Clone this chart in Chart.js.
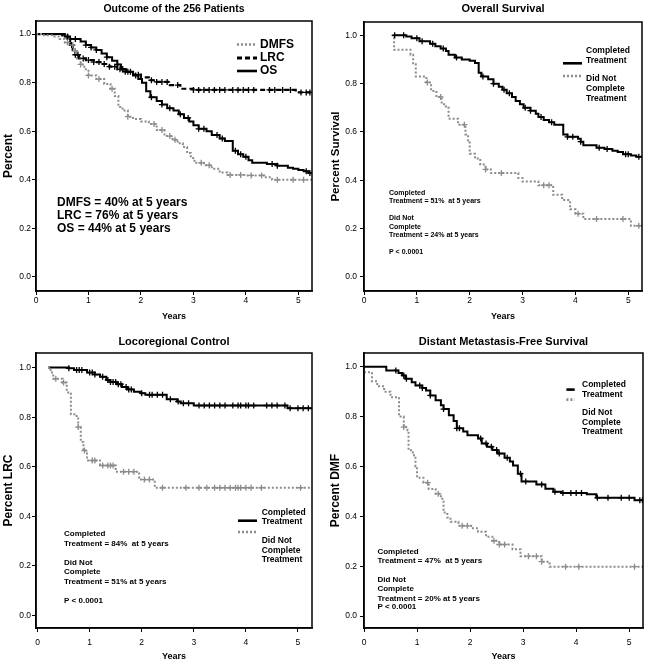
<!DOCTYPE html>
<html><head><meta charset="utf-8">
<script src="https://cdn.jsdelivr.net/npm/chart.js@4.4.1/dist/chart.umd.min.js"></script>
<style>
html,body{margin:0;padding:0;background:#fff;}
#wrap{position:relative;width:651px;height:665px;background:#fff;}
canvas{position:absolute;}
</style></head><body>
<div id="wrap">
<canvas id="c1" width="325" height="330" style="left:0;top:0"></canvas>
<canvas id="c2" width="326" height="330" style="left:325px;top:0"></canvas>
<canvas id="c3" width="325" height="335" style="left:0;top:330px"></canvas>
<canvas id="c4" width="326" height="335" style="left:325px;top:330px"></canvas>
</div>
<script>
// ---------- tick labels ----------
const yearTicks = [0, 1, 2, 3, 4, 5];
const pctTicks = [0, 0.2, 0.4, 0.6, 0.8, 1.0];

// ---------- Panel 1: Outcome of the 256 Patients ----------
const p1OsTimes = [0,0.55,0.65,0.85,0.95,1.05,1.15,1.25,1.35,1.45,1.55,1.62,1.72,1.85,1.95,2.02,2.1,2.18,2.3,2.4,2.5,2.62,2.72,2.82,2.92,3.0,3.1,3.25,3.35,3.5,3.6,3.75,3.85,3.95,4.05,4.12,4.4,4.6,4.8,4.9,5.0,5.1,5.2,5.26];
const p1OsSurv  = [1,0.99,0.98,0.97,0.955,0.945,0.935,0.92,0.905,0.89,0.875,0.855,0.845,0.83,0.815,0.8,0.765,0.74,0.725,0.71,0.695,0.685,0.67,0.655,0.64,0.625,0.61,0.6,0.585,0.57,0.56,0.52,0.505,0.495,0.48,0.47,0.465,0.458,0.45,0.445,0.44,0.435,0.428,0.425];
const p1OsCens  = [0.6,0.75,0.95,1.05,1.15,1.35,1.55,1.65,1.75,1.9,2.2,2.4,2.55,2.75,2.9,3.1,3.2,3.45,3.55,3.8,3.9,4.0,4.5,4.6,5.15,5.22];
const p1LrcTimes = [0,0.5,0.6,0.65,0.7,0.75,0.82,0.95,1.1,1.25,1.4,1.55,1.7,1.85,2.0,2.15,2.3,2.55,2.75,3.0,4.95,5.26];
const p1LrcSurv  = [1,0.995,0.975,0.955,0.935,0.915,0.9,0.893,0.885,0.877,0.866,0.855,0.845,0.833,0.822,0.81,0.803,0.79,0.775,0.77,0.76,0.76];
const p1LrcCens  = [0.68,0.75,0.8,0.9,1.0,1.1,1.2,1.3,1.4,1.5,1.6,1.65,1.7,1.8,1.95,2.2,2.3,2.4,2.5,2.7,3.0,3.1,3.2,3.3,3.4,3.5,3.6,3.75,3.85,3.95,4.05,4.15,4.45,4.55,4.7,4.85,5.05,5.15,5.22];
const p1DmfsTimes = [0,0.15,0.3,0.45,0.55,0.65,0.72,0.78,0.85,0.92,1.0,1.15,1.3,1.42,1.5,1.57,1.65,1.75,1.85,2.0,2.15,2.3,2.45,2.6,2.7,2.8,2.88,2.95,3.02,3.2,3.35,3.5,3.65,4.0,4.35,4.5,5.0,5.26];
const p1DmfsSurv  = [1,0.995,0.99,0.98,0.965,0.955,0.93,0.9,0.875,0.855,0.83,0.815,0.795,0.775,0.745,0.7,0.685,0.66,0.65,0.64,0.63,0.605,0.58,0.565,0.55,0.535,0.51,0.49,0.47,0.46,0.445,0.43,0.42,0.418,0.41,0.4,0.4,0.397];
const p1DmfsCens  = [0.6,0.7,0.75,0.85,1.0,1.2,1.45,1.75,2.25,2.4,2.55,2.65,3.15,3.3,3.7,3.9,4.1,4.3,4.6,4.9,5.1];

// ---------- Panel 2: Overall Survival ----------
const p2CompTimes = [0.55,0.8,0.9,1.05,1.25,1.35,1.45,1.55,1.6,1.72,1.85,2.0,2.1,2.17,2.22,2.35,2.45,2.55,2.62,2.7,2.8,2.87,2.95,3.02,3.15,3.25,3.3,3.4,3.5,3.6,3.77,3.85,4.05,4.1,4.15,4.4,4.55,4.7,4.8,4.9,5.05,5.15,5.26];
const p2CompSurv  = [1,0.995,0.988,0.975,0.965,0.955,0.945,0.935,0.92,0.908,0.9,0.895,0.885,0.845,0.83,0.818,0.8,0.787,0.775,0.76,0.745,0.728,0.715,0.7,0.688,0.675,0.662,0.65,0.64,0.63,0.59,0.58,0.572,0.56,0.545,0.535,0.53,0.522,0.517,0.508,0.503,0.497,0.495];
const p2CompCens  = [0.58,0.75,1.0,1.1,1.3,1.5,1.75,2.25,2.45,2.65,2.75,3.05,3.15,3.35,3.55,3.85,3.95,4.1,4.45,4.6,4.95,5.0,5.2];
const p2NotTimes = [0.53,0.57,0.88,0.93,0.98,1.18,1.27,1.37,1.47,1.55,1.6,1.78,1.92,1.97,2.0,2.1,2.2,2.3,2.4,2.92,3.0,3.3,3.58,3.75,3.9,4.0,4.15,5.05,5.26];
const p2NotSurv  = [1,0.94,0.92,0.88,0.83,0.805,0.77,0.745,0.715,0.7,0.655,0.63,0.59,0.565,0.51,0.49,0.465,0.445,0.43,0.41,0.395,0.38,0.34,0.318,0.28,0.262,0.24,0.212,0.212];
const p2NotCens  = [1.2,1.45,1.9,2.3,2.6,3.4,3.5,4.05,4.4,4.9,5.2];

// ---------- Panel 3: Locoregional Control ----------
const p3CompTimes = [0.2,0.6,0.7,0.95,1.1,1.2,1.32,1.4,1.52,1.62,1.72,1.85,1.98,2.07,2.48,2.68,2.75,3.0,4.8,5.27];
const p3CompSurv  = [1,0.997,0.99,0.98,0.972,0.963,0.95,0.942,0.933,0.922,0.912,0.903,0.897,0.89,0.872,0.863,0.856,0.847,0.836,0.836];
const p3CompCens  = [0.6,0.75,0.8,0.85,1.0,1.05,1.1,1.25,1.35,1.4,1.45,1.5,1.55,1.6,1.7,1.75,1.8,2.0,2.15,2.2,2.3,2.4,2.55,2.7,2.8,2.9,3.1,3.2,3.3,3.4,3.5,3.6,3.75,3.85,3.9,4.0,4.05,4.15,4.4,4.5,4.6,4.75,4.85,5.0,5.1,5.2];
const p3NotTimes = [0.2,0.25,0.3,0.48,0.56,0.64,0.75,0.78,0.83,0.88,0.95,1.2,1.5,1.95,2.25,5.27];
const p3NotSurv  = [1,0.98,0.955,0.94,0.9,0.812,0.795,0.76,0.7,0.665,0.625,0.605,0.58,0.548,0.515,0.515];
const p3NotCens  = [0.35,0.5,0.78,0.9,1.05,1.1,1.25,1.35,1.4,1.45,1.65,1.75,1.85,2.05,2.15,2.4,2.85,3.1,3.25,3.4,3.5,3.6,3.7,3.8,3.85,3.9,4.0,4.1,4.3,5.05];

// ---------- Panel 4: Distant Metastasis-Free Survival ----------
const p4CompTimes = [0,0.42,0.65,0.72,0.78,0.9,0.97,1.1,1.17,1.25,1.35,1.45,1.5,1.6,1.69,1.75,1.87,1.95,2.15,2.22,2.32,2.42,2.52,2.65,2.75,2.81,2.9,2.97,3.25,3.42,3.57,3.72,4.2,4.38,5.1,5.26];
const p4CompSurv  = [1,0.985,0.975,0.965,0.952,0.938,0.925,0.915,0.905,0.885,0.865,0.845,0.83,0.805,0.782,0.753,0.74,0.725,0.712,0.692,0.679,0.666,0.652,0.635,0.62,0.604,0.571,0.54,0.528,0.511,0.498,0.493,0.488,0.474,0.464,0.464];
const p4CompCens  = [0.6,0.75,0.8,1.05,1.1,1.25,1.5,1.75,1.8,2.2,2.3,2.4,2.5,2.55,2.7,2.95,3.05,3.35,3.6,3.75,3.9,4.0,4.1,4.4,4.6,4.85,5.0,5.2,5.25];
const p4NotTimes = [0,0.15,0.25,0.38,0.5,0.66,0.75,0.82,0.84,0.92,0.97,1.0,1.12,1.22,1.35,1.45,1.5,1.57,1.63,1.78,2.02,2.15,2.3,2.42,2.55,2.8,2.95,3.35,3.5,5.26];
const p4NotSurv  = [0.978,0.942,0.922,0.9,0.878,0.8,0.758,0.745,0.665,0.645,0.6,0.555,0.535,0.51,0.49,0.47,0.415,0.395,0.378,0.362,0.352,0.338,0.318,0.302,0.287,0.268,0.24,0.218,0.198,0.198];
const p4NotCens  = [0.75,1.2,1.4,1.85,1.95,2.45,2.55,2.65,3.1,3.25,3.35,3.8,4.05,5.1];

// ---------- rendering ----------
const FF = '"Liberation Sans", Arial, Helvetica, sans-serif';
const STY = {
  solid:  {color:'#000000', width:2,   dash:[]},
  dashed: {color:'#000000', width:2.2, dash:[5,3]},
  dotted: {color:'#8c8c8c', width:2,   dash:[2,2]}
};
function stepAt(ts, vs, t){ let v = vs[0]; for (let i=0;i<ts.length;i++){ if (ts[i] <= t) v = vs[i]; else break; } return v; }

function decor(p){
  return { id:'decor_'+p.id, afterDraw(chart){
    const ctx = chart.ctx, a = chart.chartArea;
    ctx.save();
    ctx.strokeStyle = '#000'; ctx.lineWidth = 1.5; ctx.setLineDash([]);
    ctx.strokeRect(a.left, a.top, a.right-a.left, a.bottom-a.top);
    ctx.fillStyle = '#000'; ctx.textBaseline = 'middle';
    ctx.font = 'bold ' + p.titleSize + 'px ' + FF; ctx.textAlign = 'center';
    ctx.fillText(p.title, (a.left+a.right)/2, p.titleY);
    ctx.textAlign = 'left';
    p.legend.forEach(it => {
      if (it.line){
        const st = STY[it.line];
        ctx.strokeStyle = st.color; ctx.lineWidth = st.width + 0.6; ctx.setLineDash(st.dash);
        ctx.beginPath(); ctx.moveTo(a.left+it.x0, a.top+it.y); ctx.lineTo(a.left+it.x1, a.top+it.y); ctx.stroke();
        ctx.setLineDash([]);
      } else {
        ctx.fillStyle = '#000'; ctx.font = 'bold ' + p.legendSize + 'px ' + FF;
        ctx.fillText(it.text, a.left+it.x, a.top+it.y);
      }
    });
    ctx.font = 'bold ' + p.noteSize + 'px ' + FF;
    p.notes.forEach(n => ctx.fillText(n.text, a.left+p.noteX, a.top+n.y));
    ctx.restore();
  }};
}

function panel(id, p){
  const ds = [];
  p.series.forEach(s => {
    const st = STY[s.style];
    ds.push({type:'line', data:s.t.map((x,i)=>({x:x, y:s.v[i]})), stepped:'before',
      borderColor:st.color, borderWidth:st.width, borderDash:st.dash, pointRadius:0, fill:false, order:2});
    ds.push({type:'scatter', data:s.c.map(x=>({x:x, y:stepAt(s.t, s.v, x)})), pointStyle:'cross',
      pointRadius:3, borderColor:st.color, backgroundColor:st.color, borderWidth:1.3, showLine:false, order:1});
  });
  new Chart(document.getElementById(id), {
    type:'line',
    data:{datasets:ds},
    options:{
      responsive:false, animation:false, events:[],
      layout:{padding:{top:p.padTop, right:p.padRight, left:0, bottom:0}},
      plugins:{legend:{display:false}, tooltip:{enabled:false}, title:{display:false}},
      scales:{
        x:{type:'linear', min:p.xMin, max:p.xMax,
          afterBuildTicks:sc=>{ sc.ticks = yearTicks.map(v=>({value:v})); },
          afterFit:sc=>{ sc.height = p.xH; },
          ticks:{color:'#000', font:{family:FF, size:8.5}, padding:p.xTickPad, maxRotation:0, callback:v=>String(v)},
          grid:{drawOnChartArea:false, color:'#000', tickColor:'#000', tickLength:4, tickWidth:1},
          border:{color:'#000', width:1.5},
          title:{display:true, text:'Years', color:'#000', font:{family:FF, size:9, weight:'bold'}, padding:{top:0, bottom:p.xTitlePad}}
        },
        y:{type:'linear', min:p.yMin, max:p.yMax,
          afterBuildTicks:sc=>{ sc.ticks = pctTicks.map(v=>({value:v})); },
          afterFit:sc=>{ sc.width = p.yW; },
          ticks:{color:'#000', font:{family:FF, size:8.5}, padding:p.yTickPad, callback:v=>Number(v).toFixed(1)},
          grid:{drawOnChartArea:false, color:'#000', tickColor:'#000', tickLength:4, tickWidth:1},
          border:{color:'#000', width:1.5},
          title:{display:true, text:p.yTitle, color:'#000', font:{family:FF, size:p.yTitleSize, weight:'bold'}, padding:{top:p.yTitlePad, bottom:0}}
        }
      }
    },
    plugins:[decor(p)]
  });
}

const compLegend = (x0, x1, tx, ySolid, yDot, rows) => [
  {line:'solid', x0:x0, x1:x1, y:ySolid},
  {line:'dotted', x0:x0, x1:x1, y:yDot},
  {text:'Completed', x:tx, y:rows[0]}, {text:'Treatment', x:tx, y:rows[1]},
  {text:'Did Not', x:tx, y:rows[2]}, {text:'Complete', x:tx, y:rows[3]}, {text:'Treatment', x:tx, y:rows[4]}
];

panel('c1', {id:1, title:'Outcome of the 256 Patients', titleY:9, titleSize:10.5,
  padTop:21, padRight:13, yW:36, xH:39, xMin:0, xMax:5.26, yMin:-0.058, yMax:1.054,
  xTickPad:1, yTickPad:1, xTitlePad:8.5, yTitle:'Percent', yTitleSize:12, yTitlePad:1.5,
  series:[
    {t:p1DmfsTimes, v:p1DmfsSurv, c:p1DmfsCens, style:'dotted'},
    {t:p1LrcTimes, v:p1LrcSurv, c:p1LrcCens, style:'dashed'},
    {t:p1OsTimes, v:p1OsSurv, c:p1OsCens, style:'solid'}
  ],
  legendSize:12,
  legend:[
    {line:'dotted', x0:201, x1:221, y:23.5}, {text:'DMFS', x:224, y:23.5},
    {line:'dashed', x0:201, x1:221, y:37}, {text:'LRC', x:224, y:37},
    {line:'solid', x0:201, x1:221, y:50}, {text:'OS', x:224, y:50}
  ],
  noteSize:12, noteX:21,
  notes:[{text:'DMFS = 40% at 5 years', y:182}, {text:'LRC = 76% at 5 years', y:194.5}, {text:'OS = 44% at 5 years', y:207.5}]
});

panel('c2', {id:2, title:'Overall Survival', titleY:9, titleSize:11,
  padTop:22, padRight:9, yW:39, xH:39, xMin:0, xMax:5.26, yMin:-0.058, yMax:1.055,
  xTickPad:1, yTickPad:3, xTitlePad:8.5, yTitle:'Percent Survival', yTitleSize:11.5, yTitlePad:4,
  series:[
    {t:p2NotTimes, v:p2NotSurv, c:p2NotCens, style:'dotted'},
    {t:p2CompTimes, v:p2CompSurv, c:p2CompCens, style:'solid'}
  ],
  legendSize:8.5,
  legend:compLegend(199, 218, 222, 41.3, 54, [28.7, 38.3, 57, 66.7, 76.3]),
  noteSize:7, noteX:25,
  notes:[{text:'Completed', y:170.7}, {text:'Treatment = 51%  at 5 years', y:179},
    {text:'Did Not', y:196.3}, {text:'Complete', y:204.7}, {text:'Treatment = 24% at 5 years', y:213},
    {text:'P < 0.0001', y:229.7}]
});

panel('c3', {id:3, title:'Locoregional Control', titleY:11.7, titleSize:11,
  padTop:23, padRight:13, yW:36, xH:37, xMin:-0.03, xMax:5.27, yMin:-0.051, yMax:1.059,
  xTickPad:6, yTickPad:1, xTitlePad:3.5, yTitle:'Percent LRC', yTitleSize:12, yTitlePad:1.5,
  series:[
    {t:p3NotTimes, v:p3NotSurv, c:p3NotCens, style:'dotted'},
    {t:p3CompTimes, v:p3CompSurv, c:p3CompCens, style:'solid'}
  ],
  legendSize:8.5,
  legend:compLegend(202, 221, 225.7, 167.7, 179, [159.7, 169, 188, 197.7, 207]),
  noteSize:8, noteX:28,
  notes:[{text:'Completed', y:180.7}, {text:'Treatment = 84%  at 5 years', y:190.3},
    {text:'Did Not', y:209.3}, {text:'Complete', y:218.7}, {text:'Treatment = 51% at 5 years', y:228.7},
    {text:'P < 0.0001', y:247.7}]
});

panel('c4', {id:4, title:'Distant Metastasis-Free Survival', titleY:11.7, titleSize:11,
  padTop:23, padRight:8, yW:39, xH:37, xMin:0, xMax:5.26, yMin:-0.048, yMax:1.055,
  xTickPad:6, yTickPad:3, xTitlePad:3.5, yTitle:'Percent DMF', yTitleSize:12, yTitlePad:3.5,
  series:[
    {t:p4NotTimes, v:p4NotSurv, c:p4NotCens, style:'dotted'},
    {t:p4CompTimes, v:p4CompSurv, c:p4CompCens, style:'solid'}
  ],
  legendSize:8.5,
  legend:compLegend(202.4, 210.7, 218, 36.6, 46.6, [31.6, 41.3, 59.3, 69.3, 79]),
  noteSize:8, noteX:13.4,
  notes:[{text:'Completed', y:198.6}, {text:'Treatment = 47%  at 5 years', y:208},
    {text:'Did Not', y:226.6}, {text:'Complete', y:236}, {text:'Treatment = 20% at 5 years', y:245.3},
    {text:'P < 0.0001', y:254}]
});
</script>
</body></html>
